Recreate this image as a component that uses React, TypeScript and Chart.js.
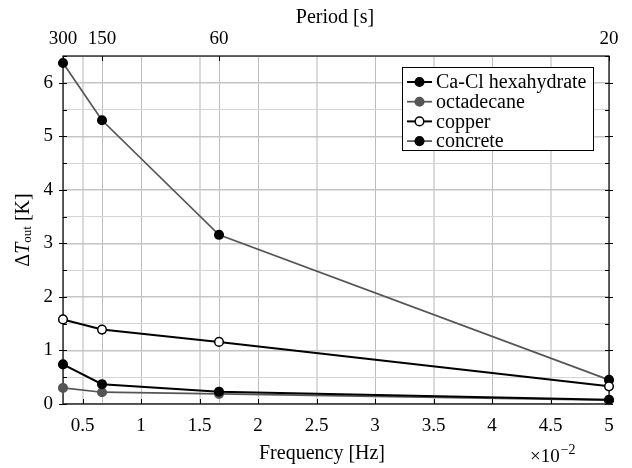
import React, { useEffect, useRef } from 'react';
import { Chart, registerables } from 'chart.js';

Chart.register(...registerables);

// ---- data ----
const periods = [300, 150, 60, 20]; // s (top axis)
const frequencies = [0.3333, 0.6667, 1.6667, 5.0]; // Hz ×10^-2
const seriesNames = ['Ca-Cl hexahydrate', 'octadecane', 'copper', 'concrete'];
const caclValues = [0.74, 0.37, 0.23, 0.08];
const octadecaneValues = [0.3, 0.22, 0.19, 0.07];
const copperValues = [1.58, 1.39, 1.16, 0.33];
const concreteValues = [6.37, 5.3, 3.16, 0.45];
const xTickValues = [0.5, 1, 1.5, 2, 2.5, 3, 3.5, 4, 4.5, 5];
const xTickLabels = ['0.5', '1', '1.5', '2', '2.5', '3', '3.5', '4', '4.5', '5'];
const yGridValues = [0, 0.5, 1, 1.5, 2, 2.5, 3, 3.5, 4, 4.5, 5, 5.5, 6, 6.5];
const yTickLabels = ['0', '1', '2', '3', '4', '5', '6'];

const FONT = "'Liberation Serif', 'Times New Roman', serif";
const GRAY = '#555555';

const pts = (vals: number[]) => frequencies.map((x, i) => ({ x, y: vals[i] }));

const overlayPlugin = {
  id: 'overlay',
  beforeDatasetsDraw(chart: any) {
    const { ctx, chartArea: a } = chart;
    const xs = chart.scales.x;
    const ys = chart.scales.y;
    ctx.save();
    ctx.strokeStyle = '#000';
    ctx.lineWidth = 1;
    xTickValues.forEach((v) => {
      const px = Math.round(xs.getPixelForValue(v)) + 0.5;
      ctx.beginPath();
      ctx.moveTo(px, a.bottom);
      ctx.lineTo(px, a.bottom - 5);
      ctx.stroke();
    });
    frequencies.forEach((v) => {
      const px = Math.round(xs.getPixelForValue(v)) + 0.5;
      ctx.beginPath();
      ctx.moveTo(px, a.top);
      ctx.lineTo(px, a.top + 5);
      ctx.stroke();
    });
    yGridValues.forEach((v) => {
      const py = Math.round(ys.getPixelForValue(v)) + 0.5;
      const major = Number.isInteger(v);
      ctx.beginPath();
      ctx.moveTo(a.left - (major ? 4 : 0), py);
      ctx.lineTo(a.left + 4, py);
      ctx.moveTo(a.right + (major ? 4 : 0), py);
      ctx.lineTo(a.right - 4, py);
      ctx.stroke();
    });
    ctx.lineWidth = 1.2;
    ctx.strokeRect(a.left, a.top, a.right - a.left, a.bottom - a.top);
    ctx.restore();
  },
  afterDraw(chart: any) {
    const { ctx, chartArea: a } = chart;
    ctx.save();
    ctx.fillStyle = '#000';
    ctx.font = `20px ${FONT}`;
    ctx.textAlign = 'center';
    ctx.textBaseline = 'middle';
    ctx.fillText('Frequency [Hz]', 322, 454);
    ctx.fillText('Period [s]', 335, 18);

    // ×10^-2
    ctx.textAlign = 'left';
    ctx.textBaseline = 'alphabetic';
    ctx.font = `19px ${FONT}`;
    ctx.fillText('×10', 530, 462);
    const w10 = ctx.measureText('×10').width;
    ctx.font = `14px ${FONT}`;
    ctx.fillText('−2', 530 + w10 + 1, 454);

    // Y title: ΔT_out [K]
    ctx.save();
    ctx.translate(24, (a.top + a.bottom) / 2);
    ctx.rotate(-Math.PI / 2);
    const parts = [
      { t: 'Δ', f: `20px ${FONT}`, dy: 0 },
      { t: 'T', f: `italic 20px ${FONT}`, dy: 0 },
      { t: 'out', f: `13px ${FONT}`, dy: 4 },
      { t: ' [K]', f: `20px ${FONT}`, dy: 0 },
    ];
    let total = 0;
    parts.forEach((p) => {
      ctx.font = p.f;
      total += ctx.measureText(p.t).width;
    });
    let cx = -total / 2;
    ctx.textAlign = 'left';
    ctx.textBaseline = 'middle';
    parts.forEach((p) => {
      ctx.font = p.f;
      ctx.fillText(p.t, cx, p.dy);
      cx += ctx.measureText(p.t).width;
    });
    ctx.restore();

    // Legend
    const bx = 402, by = 67, bw = 191, bh = 83;
    ctx.fillStyle = '#fff';
    ctx.fillRect(bx, by, bw, bh);
    ctx.strokeStyle = '#000';
    ctx.lineWidth = 1;
    ctx.strokeRect(bx + 0.5, by + 0.5, bw, bh);
    chart.data.datasets.forEach((ds: any, i: number) => {
      const y = by + 15 + i * 19.7;
      ctx.strokeStyle = ds.borderColor;
      ctx.lineWidth = ds.borderWidth;
      ctx.beginPath();
      ctx.moveTo(407, y);
      ctx.lineTo(432, y);
      ctx.stroke();
      ctx.beginPath();
      ctx.arc(419.5, y, ds.pointRadius, 0, Math.PI * 2);
      ctx.fillStyle = ds.pointBackgroundColor;
      ctx.fill();
      ctx.strokeStyle = ds.pointBorderColor;
      ctx.lineWidth = ds.pointBorderWidth;
      ctx.stroke();
      ctx.fillStyle = '#000';
      ctx.font = `20px ${FONT}`;
      ctx.textAlign = 'left';
      ctx.textBaseline = 'middle';
      ctx.fillText(ds.label, 436, y + 1);
    });
    ctx.restore();
  },
};

export default function App() {
  const ref = useRef<HTMLCanvasElement>(null);
  useEffect(() => {
    if (!ref.current) return;
    const mk = (label: string, vals: number[], line: string, width: number, fill: string, border: string) => ({
      label,
      data: pts(vals),
      borderColor: line,
      borderWidth: width,
      pointRadius: 4.3,
      pointBackgroundColor: fill,
      pointBorderColor: border,
      pointBorderWidth: 1.5,
      tension: 0,
      clip: false as any,
    });
    const chart = new Chart(ref.current, {
      type: 'line',
      data: {
        datasets: [
          mk(seriesNames[0], caclValues, '#000', 2, '#000', '#000'),
          mk(seriesNames[1], octadecaneValues, GRAY, 1.7, GRAY, GRAY),
          mk(seriesNames[2], copperValues, '#000', 2, '#fff', '#000'),
          mk(seriesNames[3], concreteValues, GRAY, 1.7, '#000', '#000'),
        ],
      },
      options: {
        animation: false,
        responsive: false,
        layout: { padding: { left: 0, right: 23, top: 0, bottom: 0 } },
        plugins: { legend: { display: false }, tooltip: { enabled: false } },
        scales: {
          x: {
            type: 'linear',
            position: 'bottom',
            min: frequencies[0],
            max: frequencies[3],
            afterBuildTicks: (s: any) => {
              s.ticks = xTickValues.map((value) => ({ value }));
            },
            afterFit: (s: any) => {
              s.height = 64;
            },
            ticks: {
              callback: (v: any) => xTickLabels[xTickValues.indexOf(Number(v))] ?? '',
              font: { family: FONT, size: 19 },
              color: '#000',
              padding: 11,
              maxRotation: 0,
              autoSkip: false,
            },
            grid: {
              drawTicks: false,
              color: (c: any) => (Number.isInteger(c.tick?.value) ? '#bdbdbd' : '#dadada'),
              lineWidth: (c: any) => (Number.isInteger(c.tick?.value) ? 1 : 2),
            },
            border: { display: false },
          },
          x2: {
            type: 'linear',
            position: 'top',
            min: frequencies[0],
            max: frequencies[3],
            afterBuildTicks: (s: any) => {
              s.ticks = frequencies.map((value) => ({ value }));
            },
            afterFit: (s: any) => {
              s.height = 56;
            },
            ticks: {
              callback: (v: any) => {
                const i = frequencies.indexOf(Number(v));
                return i >= 0 ? String(periods[i]) : '';
              },
              font: { family: FONT, size: 19 },
              color: '#000',
              padding: 6,
              maxRotation: 0,
              autoSkip: false,
            },
            grid: { drawTicks: false, color: '#bdbdbd', lineWidth: 1 },
            border: { display: false },
          },
          y: {
            type: 'linear',
            position: 'left',
            min: 0,
            max: 6.5,
            afterBuildTicks: (s: any) => {
              s.ticks = yGridValues.map((value) => ({ value }));
            },
            afterFit: (s: any) => {
              s.width = 63;
            },
            ticks: {
              callback: (v: any) => (Number.isInteger(Number(v)) ? yTickLabels[Number(v)] : ''),
              font: { family: FONT, size: 19 },
              color: '#000',
              padding: 10,
              autoSkip: false,
            },
            grid: {
              drawTicks: false,
              color: (c: any) => (Number.isInteger(c.tick?.value) ? '#c4c4c4' : '#d4d4d4'),
              lineWidth: (c: any) => (Number.isInteger(c.tick?.value) ? 1.5 : 1),
            },
            border: { display: false },
          },
        },
      } as any,
      plugins: [overlayPlugin],
    });
    return () => chart.destroy();
  }, []);
  return (
    <div style={{ position: 'fixed', left: 0, top: 0, width: 632, height: 468, background: '#fff' }}>
      <canvas ref={ref} width={632} height={468} />
    </div>
  );
}
